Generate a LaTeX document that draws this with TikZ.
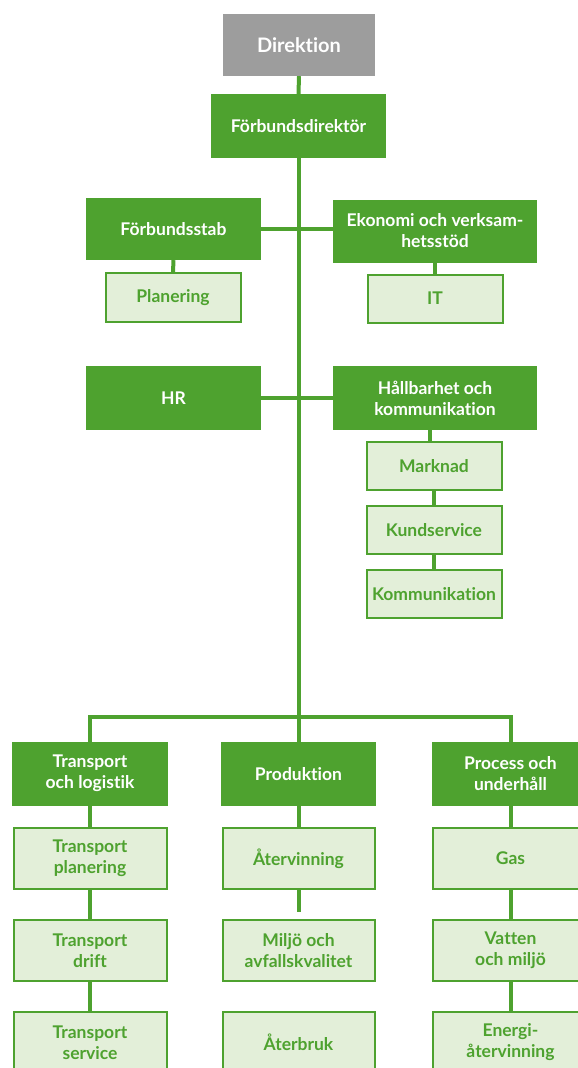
\documentclass[tikz,border=0pt]{standalone}
\usepackage{fontspec}
\setmainfont{Lato}[Ligatures=NoCommon]
\definecolor{gr}{HTML}{4EA22F}
\definecolor{lgr}{HTML}{E3EFD9}
\definecolor{gy}{HTML}{9D9D9D}
\begin{document}
\begin{tikzpicture}[x=1pt,y=-1pt,
  base/.style={rectangle, inner sep=0pt, align=center, font=\bfseries\fontsize{17.5}{21}\selectfont},
  top/.style={base, fill=gy, text=white, minimum width=152pt, minimum height=62pt, font=\bfseries\fontsize{20}{24}\selectfont},
  dark/.style={base, fill=gr, text=white, minimum height=64pt},
  light/.style={base, fill=lgr, draw=gr, line width=2pt, text=gr},
  conn/.style={draw=gr, line width=4pt}]
\clip (0,0) rectangle (578,1068);
\useasboundingbox (0,0) rectangle (578,1068);
% nodes
\node[top] (dir) at (299,45) {Direktion};
\node[dark, minimum width=175pt] (fd) at (298.5,126) {Förbundsdirektör};
\node[dark, minimum width=175pt, minimum height=62pt] (fstab) at (173.5,229) {Förbundsstab};
\node[dark, minimum width=204pt, minimum height=63pt] (eko) at (435,231) {Ekonomi och verksam-\\hetsstöd};
\node[light, minimum width=135pt, minimum height=49pt] (plan) at (173,297.5) {Planering};
\node[light, minimum width=135pt, minimum height=48pt] (it) at (435,298.5) {IT};
\node[dark, minimum width=175pt] (hr) at (173.5,398) {HR};
\node[dark, minimum width=204pt] (hall) at (435,398) {Hållbarhet och\\kommunikation};
\node[light, minimum width=135pt, minimum height=48pt] (mark) at (434,466) {Marknad};
\node[light, minimum width=135pt, minimum height=48pt] (kund) at (434,530) {Kundservice};
\node[light, minimum width=135pt, minimum height=48pt] (komm) at (434,594) {Kommunikation};
\node[dark, minimum width=156pt] (tol) at (90,773.7) {Transport\\och logistik};
\node[dark, minimum width=155pt] (prod) at (298.5,773.7) {Produktion};
\node[dark, minimum width=158pt] (proc) at (510.5,773.7) {Process och\\underhåll};
\node[light, minimum width=153pt, minimum height=61pt] (tp) at (90,858.5) {Transport\\planering};
\node[light, minimum width=153pt, minimum height=61pt] (td) at (90,950.5) {Transport\\drift};
\node[light, minimum width=153pt, minimum height=61pt] (ts) at (90,1042.5) {Transport\\service};
\node[light, minimum width=152pt, minimum height=61pt] (atv) at (298.5,858.5) {Återvinning};
\node[light, minimum width=152pt, minimum height=61pt] (mil) at (298.5,950.5) {Miljö och\\avfallskvalitet};
\node[light, minimum width=152pt, minimum height=61pt] (atb) at (298.5,1042.5) {Återbruk};
\node[light, minimum width=156pt, minimum height=61pt] (gas) at (510.5,858.5) {Gas};
\node[light, minimum width=156pt, minimum height=61pt] (vat) at (510.5,950.5) {Vatten\\och miljö};
\node[light, minimum width=156pt, minimum height=61pt] (ene) at (510.5,1042.5) {Energi-\\återvinning};
% coordinates
\coordinate (busc) at (298.5,717);
\coordinate (busl) at (90,717);
\coordinate (busr) at (510.5,717);
\coordinate (stub) at (298.5,912);
% connectors
\draw[conn] (dir.south) -- (fd.north);
\draw[conn] (fd.south) -- (busc);
\draw[conn] (fstab.east) -- (fstab.east -| eko.west);
\draw[conn] (fstab.south) -- (plan.north);
\draw[conn] (eko.south) -- (it.north);
\draw[conn] (hr.east) -- (hall.west);
\draw[conn] ([xshift=-4pt]mark.north) -- ([xshift=-4pt]mark.north |- hall.south);
\draw[conn] (mark.south) -- (kund.north);
\draw[conn] (kund.south) -- (komm.north);
\draw[conn, line join=miter] (tol.north) -- (busl) -- (busr) -- (proc.north);
\draw[conn] (busc) -- (prod.north);
\draw[conn] (tol.south) -- (tp.north);
\draw[conn] (tp.south) -- (td.north);
\draw[conn] (td.south) -- (ts.north);
\draw[conn] (prod.south) -- (atv.north);
\draw[conn] (atv.south) -- (stub);
\draw[conn] (proc.south) -- (gas.north);
\draw[conn] (gas.south) -- (vat.north);
\draw[conn] (vat.south) -- (ene.north);
\end{tikzpicture}
\end{document}
